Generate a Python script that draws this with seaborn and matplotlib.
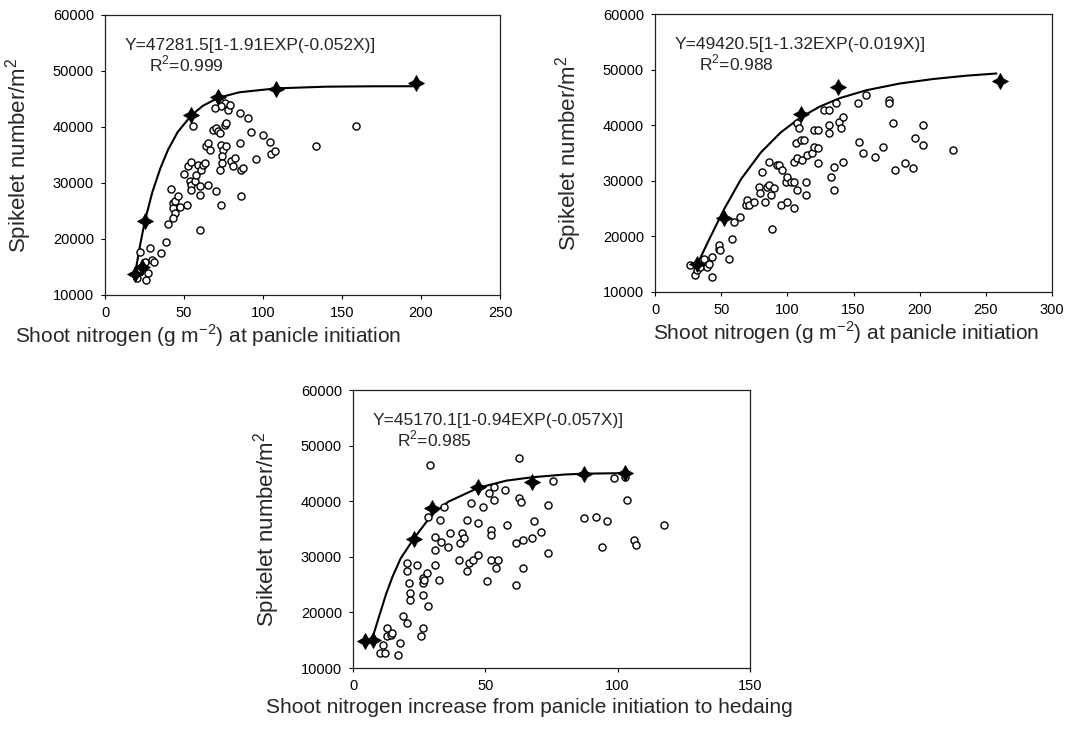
import numpy as np
import pandas as pd
import matplotlib
matplotlib.use("Agg")
import matplotlib.pyplot as plt
import seaborn as sns

# ---- panel 1: shoot N at panicle initiation ----
p1_x = [22.1, 28.4, 20, 25.7, 27.4, 23.2, 25.3, 29.5, 31, 35.2, 38.9, 39.6, 41.5, 43.2, 43.2,
        44.2, 44.6, 43.2, 45.9, 47.4, 51.6, 49.9, 52.6, 54.7, 55.4, 53.7, 54.7, 54.2, 56.8, 57.9,
        59, 60, 60, 61, 62.1, 63.2, 60, 65.3, 64.2, 65.3, 66.3, 68.4, 70.5, 71.6, 72.6, 70.5,
        73.7, 74.7, 74.3, 74.3, 73.1, 73.7, 75.8, 76.8, 76.8, 75.8, 77.9, 73.7, 69.5, 78.9, 80,
        82, 81, 85.3, 86.3, 87.4, 85.3, 86.3, 90.5, 92.6, 95.8, 100, 104.2, 105.3, 107.4, 133.7,
        158.9]
p1_y = [17600, 18350, 12980, 12680, 14000, 15070, 15960, 16260, 15960, 17570, 19540, 22650,
        28900, 26400, 25500, 26700, 24600, 23700, 27600, 25800, 26100, 31600, 33000, 33700,
        40250, 30300, 29700, 28800, 30300, 31500, 33300, 29400, 27900, 32400, 33300, 33600,
        21600, 29700, 36550, 37150, 35950, 39500, 39800, 39200, 38900, 28500, 36850, 35950,
        34750, 33550, 32400, 26100, 40400, 40700, 36550, 44300, 43100, 43700, 43400, 44000,
        33850, 34500, 33000, 37150, 32400, 32700, 42500, 27600, 41600, 39100, 34300, 38600,
        37400, 35100, 35700, 36550, 40100]
p1_star_x = [19, 23.2, 25.3, 54.7, 71.6, 108.4, 196.8]
p1_star_y = [13800, 15050, 23300, 42200, 45400, 46800, 47900]
p1_fit_x = [19, 22, 25.3, 30, 35, 40, 46, 54.7, 62, 71.6, 85, 108.4, 140, 170, 196.8]
p1_fit_y = [13700, 18600, 23300, 28400, 32600, 36000, 39100, 42100, 43800, 45200, 46200,
            46900, 47200, 47270, 47280]

# ---- panel 2: shoot N at panicle initiation ----
p2_x = [26.6, 30.4, 31.6, 34.2, 36.7, 39.2, 40.5, 43, 43, 48.1, 48.1, 49.4, 55.7, 58.2, 59.5,
        64.6, 68.4, 69.6, 70.9, 74.7, 78.5, 79.7, 81, 83.5, 84.8, 86.1, 86.1, 87.3, 88.6, 89.9,
        92.4, 93.7, 94.9, 96.2, 98.7, 100, 100, 102.5, 105, 105, 105, 106.3, 107, 107.6, 108.9,
        107.6, 110, 111.4, 112.7, 113.9, 113.9, 115.2, 119, 120.3, 120.3, 122.8, 122.8, 122.8,
        127.8, 131.6, 131.6, 131.6, 132.9, 135.4, 135.4, 136.7, 139.2, 140.5, 141.8, 141.8,
        153.2, 154.4, 157, 159.5, 166, 172, 177.2, 177.2, 179.7, 181, 188.6, 194.9, 196.2,
        202.5, 202.5, 225.3]
p2_y = [14820, 13020, 13920, 14520, 16020, 14520, 15120, 12720, 16320, 17820, 18420, 17520,
        16020, 19620, 22620, 23520, 25620, 26520, 25620, 26220, 28920, 27720, 31620, 26220,
        28920, 29220, 33420, 27420, 21420, 28620, 32820, 32820, 25620, 31920, 29820, 30720,
        26220, 29820, 29820, 25020, 33420, 36720, 34020, 40320, 39420, 28320, 37320, 33720,
        37320, 29820, 27420, 34620, 34920, 36120, 39120, 39120, 35820, 33120, 42720, 42720,
        40020, 38520, 30720, 32520, 28320, 43920, 40620, 39420, 41520, 33420, 43920, 37020,
        34920, 45420, 34320, 36120, 44520, 43920, 40320, 31920, 33120, 32220, 37620, 36420,
        40020, 35520]
p2_star_x = [31.6, 51.9, 110, 138, 260.8]
p2_star_y = [15120, 23220, 42100, 46800, 48000]
p2_fit_x = [32, 40, 52, 65, 80, 95, 110, 125, 140, 160, 185, 210, 235, 258]
p2_fit_y = [15000, 19000, 24800, 30300, 35100, 38700, 41400, 43400, 44900, 46300, 47500,
            48300, 48900, 49300]

# ---- panel 3: shoot N increase from panicle initiation to heading ----
p3_x = [11.5, 10.1, 12.2, 12.8, 12.8, 14.2, 14.9, 17.6, 16.9, 18.9, 20.3, 20.3, 20.3, 21.2,
        21.4, 21.4, 24.3, 26.4, 26.4, 26.6, 26.4, 25.7, 27, 28.1, 28.4, 29.1, 28.4, 31.1, 31.1,
        31.1, 32.4, 32.7, 33.1, 34.5, 35.8, 36.5, 39.9, 40.5, 41.2, 41.9, 43.2, 43.2, 43.9,
        44.6, 45.3, 47.3, 47.3, 49.3, 50.7, 51.4, 52, 52, 52, 53.4, 53.4, 54, 54.7, 57.4, 58.1,
        61.5, 61.5, 62.8, 62.8, 63.5, 64.2, 64.2, 67.6, 68.2, 71, 73.6, 73.6, 75.7, 87.2, 91.9,
        93.9, 95.9, 98.6, 102.7, 103.4, 106.1, 106.8, 117.6]
p3_y = [14190, 12690, 12690, 17190, 15690, 15990, 16290, 14490, 12390, 19270, 18090, 28860,
        27360, 25270, 23470, 22270, 28560, 26170, 25270, 23170, 17190, 15690, 25870, 27060,
        21090, 46530, 37240, 33650, 31250, 28560, 25870, 36640, 32750, 39040, 31850, 34250,
        29460, 32450, 34250, 33360, 36640, 27360, 28860, 39640, 29460, 36050, 30360, 39040,
        25570, 41440, 34850, 33950, 29460, 42640, 40240, 27960, 29460, 42040, 35750, 32450,
        24970, 47720, 40540, 39940, 33060, 27960, 33360, 36350, 34550, 39340, 30660, 43710,
        36950, 37240, 31850, 36350, 44130, 44430, 40240, 33060, 32150, 35750]
p3_star_x = [4.7, 7.4, 23, 29.7, 47.3, 67.6, 87.2, 102.7]
p3_star_y = [14790, 14970, 33170, 38860, 42510, 43530, 44910, 45030]
p3_fit_x = [4.7, 7.4, 10, 12.5, 15, 18, 23, 29.7, 36, 47.3, 58, 67.6, 80, 87.2, 102.7]
p3_fit_y = [14800, 15500, 19500, 23300, 26500, 29700, 33300, 37500, 39900, 42400, 43700,
            44300, 44800, 44950, 45050]

equations = ["Y=47281.5[1-1.91EXP(-0.052X)]",
             "Y=49420.5[1-1.32EXP(-0.019X)]",
             "Y=45170.1[1-0.94EXP(-0.057X)]"]
r2_labels = ["R$^2$=0.999", "R$^2$=0.988", "R$^2$=0.985"]
x_labels = ["Shoot nitrogen (g m$^{-2}$) at panicle initiation",
            "Shoot nitrogen (g m$^{-2}$) at panicle initiation",
            "Shoot nitrogen increase from panicle initiation to hedaing"]
x_limits = [(0, 250), (0, 300), (0, 150)]

sns.set_style("ticks")
plt.rcParams['font.family'] = ['Liberation Sans', 'DejaVu Sans']
plt.rcParams['mathtext.fontset'] = 'custom'
plt.rcParams['mathtext.rm'] = 'Liberation Sans'

fig = plt.figure(figsize=(10.69, 7.35), dpi=100)
W, H = 1069, 735
# axes boxes in pixels (left, top, right, bottom)
boxes = [(105, 15, 500, 295), (655, 14, 1052, 292), (353, 390, 750, 668)]
xlabel_pos = [0.26, 0.48, 0.445]
xlabel_drop = [27, 27, 30]

panels = [
    (p1_x, p1_y, p1_star_x, p1_star_y, p1_fit_x, p1_fit_y),
    (p2_x, p2_y, p2_star_x, p2_star_y, p2_fit_x, p2_fit_y),
    (p3_x, p3_y, p3_star_x, p3_star_y, p3_fit_x, p3_fit_y),
]

star = (4, 1, 0)

for i, (sx, sy, stx, sty, fx, fy) in enumerate(panels):
    l, t, r, b = boxes[i]
    ax = fig.add_axes([l / W, 1 - b / H, (r - l) / W, (b - t) / H])

    fit = pd.DataFrame({"x": fx, "y": fy})
    sns.lineplot(data=fit, x="x", y="y", ax=ax, color="black", linewidth=1.5,
                 sort=False, estimator=None)
    obs = pd.DataFrame({"x": sx, "y": sy})
    sns.scatterplot(data=obs, x="x", y="y", ax=ax, marker="o", s=26,
                    facecolor="white", edgecolor="black", linewidth=1.0, zorder=3)
    st = pd.DataFrame({"x": stx, "y": sty})
    sns.scatterplot(data=st, x="x", y="y", ax=ax, marker=star, s=130,
                    color="black", edgecolor="black", linewidth=0.6, zorder=4)

    ax.set_xlim(*x_limits[i])
    ax.set_ylim(10000, 60000)
    ax.set_xticks(np.arange(x_limits[i][0], x_limits[i][1] + 1, 50))
    ax.set_yticks(np.arange(10000, 60001, 10000))
    for sp in ax.spines.values():
        sp.set_visible(True)
        sp.set_color("#222222")
        sp.set_linewidth(0.9)
    ax.tick_params(axis="both", direction="out", length=3, width=0.8,
                   labelsize=10.5, colors="black", pad=5)
    ax.tick_params(top=False, right=False)
    ax.set_ylabel("Spikelet number/m$^2$", fontsize=16)
    ax.yaxis.set_label_coords(-71 / (r - l), 0.5)
    ax.set_xlabel(x_labels[i], fontsize=15, va="top")
    ax.xaxis.set_label_coords(xlabel_pos[i], -xlabel_drop[i] / (b - t))

    ax.text(0.05, 0.89, equations[i], transform=ax.transAxes, fontsize=12.5,
            ha="left", va="center")
    ax.text(0.112, 0.825, r2_labels[i], transform=ax.transAxes, fontsize=12.5,
            ha="left", va="center")

plt.savefig("out.png", dpi=100, facecolor="white")
plt.close()
